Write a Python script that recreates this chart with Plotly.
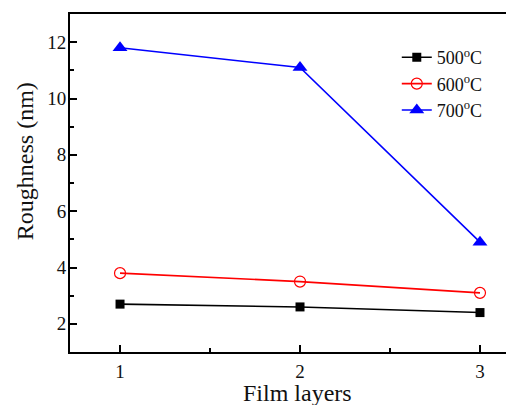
import plotly.graph_objects as go

layers = [1, 2, 3]
r500 = [2.7, 2.6, 2.4]
r600 = [3.8, 3.5, 3.1]
r700 = [11.8, 11.1, 4.9]
names = ["500<sup>o</sup>C", "600<sup>o</sup>C", "700<sup>o</sup>C"]
x_title = "Film layers"
y_title = "Roughness (nm)"

fig = go.Figure()
fig.add_trace(go.Scatter(x=layers, y=r500, name=names[0], mode="lines+markers",
                         line=dict(color="black", width=1.6),
                         marker=dict(symbol="square", size=9, color="black")))
fig.add_trace(go.Scatter(x=layers, y=r600, name=names[1], mode="lines+markers",
                         line=dict(color="#ff0000", width=1.6),
                         marker=dict(symbol="circle-open", size=11, color="#ff0000", line=dict(width=1.2))))
fig.add_trace(go.Scatter(x=layers, y=r700, name=names[2], mode="lines+markers",
                         line=dict(color="#0000ff", width=1.6),
                         marker=dict(symbol="triangle-up", size=13, color="#0000ff")))

font = "Liberation Serif, Times New Roman, serif"
txt = "#111"
# page body has an 8px default margin, so the figure is 8px smaller and offset
fig.update_layout(
    width=506, height=397,
    margin=dict(l=62, r=0, t=6, b=53),
    paper_bgcolor="white", plot_bgcolor="white",
    font=dict(family=font, color=txt, size=19),
    showlegend=True,
    legend=dict(x=0.736, y=0.926, xanchor="left", yanchor="top",
                font=dict(family=font, size=18, color=txt),
                bgcolor="rgba(0,0,0,0)", tracegroupgap=0, itemwidth=30),
    xaxis=dict(range=[0.722, 3.189], tickvals=[1, 2, 3], ticks="inside", ticklen=7,
               tickwidth=1.5, tickcolor="black", automargin=False,
               minor=dict(dtick=0.5, tick0=1, ticks="inside", ticklen=4, tickwidth=1.5, tickcolor="black"),
               showline=True, linecolor="black", linewidth=2, mirror=True,
               showgrid=False, zeroline=False,
               ticklabelstandoff=1,
               tickfont=dict(family=font, size=19, color=txt)),
    yaxis=dict(range=[1, 13], tickvals=[2, 4, 6, 8, 10, 12], ticks="inside", ticklen=7,
               tickwidth=1.5, tickcolor="black", automargin=False,
               minor=dict(dtick=1, tick0=1, ticks="inside", ticklen=4, tickwidth=1.5, tickcolor="black"),
               showline=True, linecolor="black", linewidth=2, mirror=False,
               showgrid=False, zeroline=False,
               ticklabelstandoff=-2,
               tickfont=dict(family=font, size=19, color=txt)),
    annotations=[
        dict(text=x_title, xref="paper", yref="paper", x=0.512, y=-0.121,
             xanchor="center", yanchor="middle", showarrow=False,
             font=dict(family=font, size=24, color=txt)),
        dict(text=y_title, xref="paper", yref="paper", x=-0.101, y=0.565,
             xanchor="center", yanchor="middle", showarrow=False, textangle=-90,
             font=dict(family=font, size=24, color=txt)),
    ],
)
fig.write_html("out.html")
